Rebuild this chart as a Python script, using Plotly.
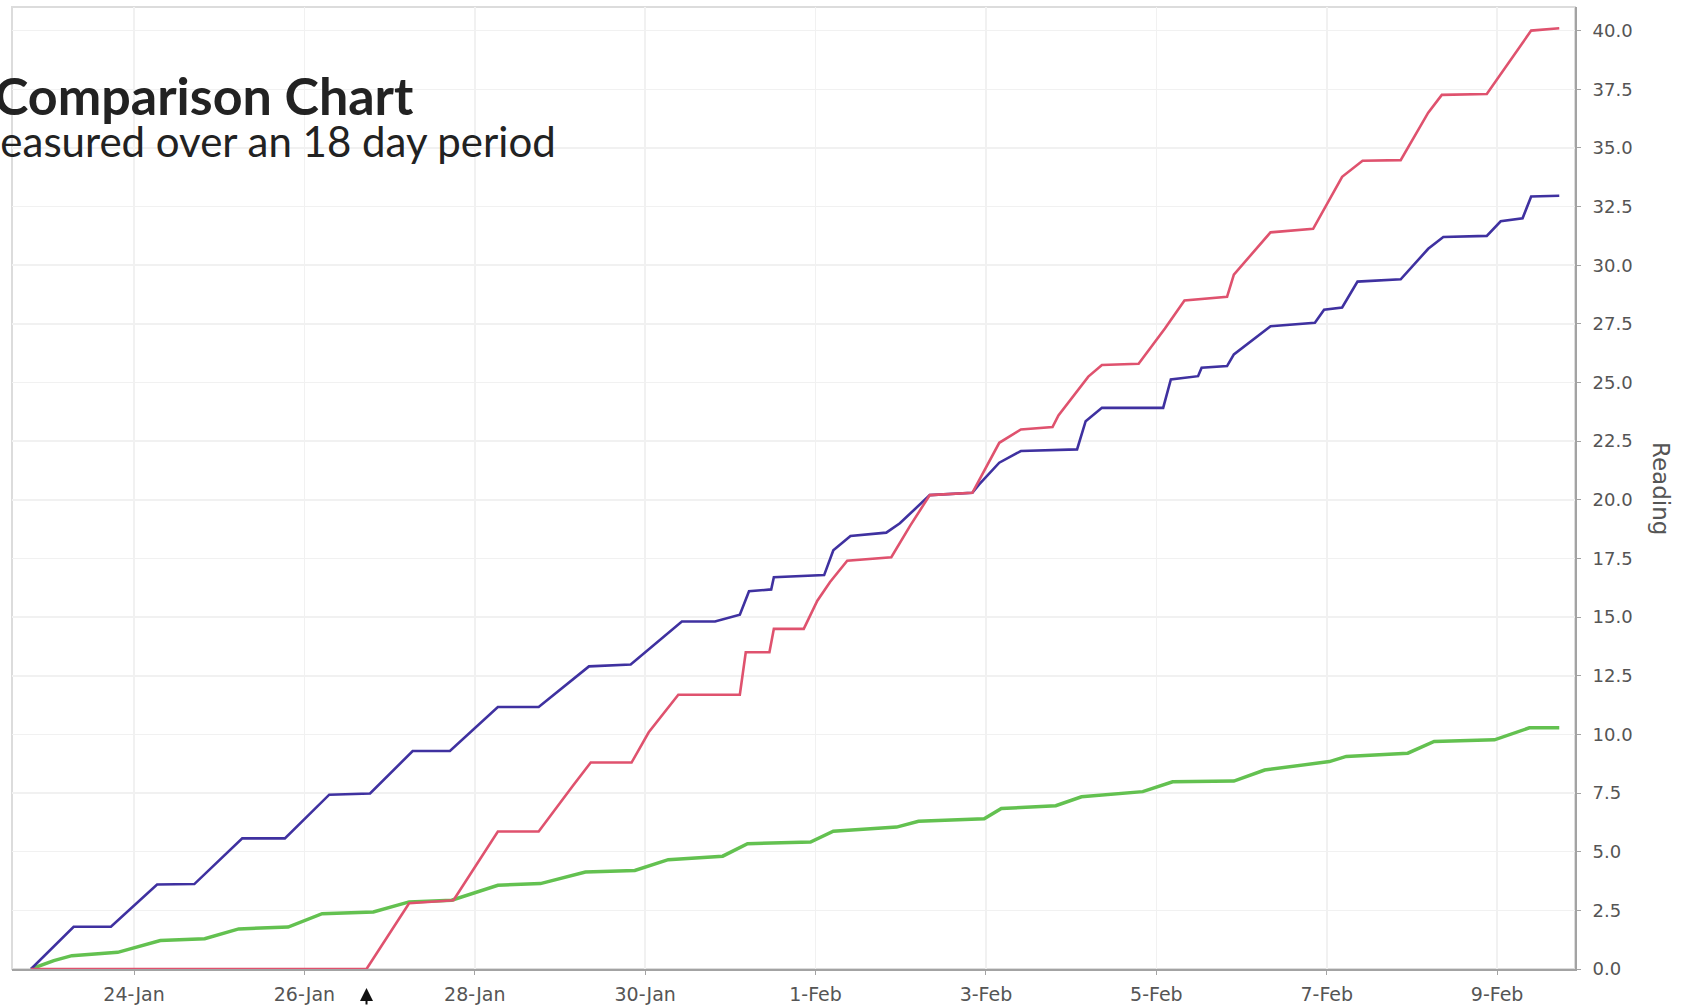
import plotly.graph_objects as go

# ---------------- data ----------------
blue_times = [
    "2010-01-22 19:00", "2010-01-23 07:00", "2010-01-23 17:30", "2010-01-24 06:30", "2010-01-24 17:00",
    "2010-01-25 06:30", "2010-01-25 18:30", "2010-01-26 07:00", "2010-01-26 18:30", "2010-01-27 06:30",
    "2010-01-27 17:00", "2010-01-28 06:30", "2010-01-28 18:00", "2010-01-29 08:10", "2010-01-29 19:55",
    "2010-01-30 10:20", "2010-01-30 19:40", "2010-01-31 02:40", "2010-01-31 05:15", "2010-01-31 11:30",
    "2010-01-31 12:15", "2010-02-01 02:25", "2010-02-01 05:00", "2010-02-01 09:50", "2010-02-01 19:55",
    "2010-02-01 23:45", "2010-02-02 08:10", "2010-02-02 20:10", "2010-02-02 22:05", "2010-02-03 03:45",
    "2010-02-03 09:50", "2010-02-04 01:40", "2010-02-04 04:05", "2010-02-04 08:40", "2010-02-05 01:55",
    "2010-02-05 04:05", "2010-02-05 11:45", "2010-02-05 12:45", "2010-02-05 19:55", "2010-02-05 21:50",
    "2010-02-06 08:10", "2010-02-06 20:40", "2010-02-06 23:15", "2010-02-07 04:20", "2010-02-07 08:40",
    "2010-02-07 20:50", "2010-02-08 04:35", "2010-02-08 08:50", "2010-02-08 21:05", "2010-02-09 01:00",
    "2010-02-09 07:10", "2010-02-09 09:35", "2010-02-09 17:30",
]
blue_values = [
    0.0, 1.8, 1.8, 3.6, 3.62,
    5.57, 5.57, 7.43, 7.48, 9.29,
    9.29, 11.17, 11.17, 12.9, 12.98,
    14.81, 14.81, 15.1, 16.1, 16.18,
    16.7, 16.79, 17.85, 18.46, 18.6,
    19.0, 20.2, 20.3, 20.66, 21.58,
    22.08, 22.15, 23.35, 23.92, 23.92,
    25.13, 25.27, 25.63, 25.7, 26.2,
    27.4, 27.55, 28.1, 28.2, 29.3,
    29.4, 30.7, 31.2, 31.25, 31.87,
    32.0, 32.93, 32.96,
]

red_times = [
    "2010-01-22 19:00", "2010-01-26 17:30", "2010-01-27 05:30", "2010-01-27 18:00", "2010-01-28 06:30",
    "2010-01-28 18:00", "2010-01-29 03:35", "2010-01-29 08:40", "2010-01-29 20:10", "2010-01-30 01:00",
    "2010-01-30 09:20", "2010-01-31 02:40", "2010-01-31 04:20", "2010-01-31 11:00", "2010-01-31 12:15",
    "2010-01-31 20:40", "2010-02-01 00:30", "2010-02-01 04:05", "2010-02-01 08:55", "2010-02-01 21:20",
    "2010-02-02 02:40", "2010-02-02 08:10", "2010-02-02 20:10", "2010-02-03 03:45", "2010-02-03 09:50",
    "2010-02-03 18:45", "2010-02-03 20:25", "2010-02-04 04:50", "2010-02-04 08:40", "2010-02-04 19:00",
    "2010-02-05 02:25", "2010-02-05 07:55", "2010-02-05 19:55", "2010-02-05 21:50", "2010-02-06 08:10",
    "2010-02-06 20:10", "2010-02-07 04:20", "2010-02-07 10:05", "2010-02-07 20:50", "2010-02-08 04:35",
    "2010-02-08 08:25", "2010-02-08 21:05", "2010-02-09 09:35", "2010-02-09 17:30",
]
red_values = [
    0.0, 0.0, 2.8, 2.93, 5.86,
    5.86, 7.8, 8.8, 8.8, 10.09,
    11.69, 11.69, 13.5, 13.5, 14.5,
    14.5, 15.7, 16.5, 17.4, 17.55,
    18.9, 20.2, 20.3, 22.43, 23.0,
    23.1, 23.6, 25.25, 25.75, 25.8,
    27.3, 28.5, 28.65, 29.6, 31.4,
    31.55, 33.77, 34.45, 34.48, 36.5,
    37.26, 37.3, 40.0, 40.1,
]

green_times = [
    "2010-01-22 19:00", "2010-01-23 01:25", "2010-01-23 06:30", "2010-01-23 19:25", "2010-01-24 07:25",
    "2010-01-24 19:55", "2010-01-25 05:30", "2010-01-25 19:25", "2010-01-26 05:00", "2010-01-26 19:25",
    "2010-01-27 05:30", "2010-01-27 17:30", "2010-01-28 06:30", "2010-01-28 18:30", "2010-01-29 07:10",
    "2010-01-29 21:05", "2010-01-30 06:30", "2010-01-30 21:50", "2010-01-31 04:50", "2010-01-31 22:35",
    "2010-02-01 05:00", "2010-02-01 22:50", "2010-02-02 05:00", "2010-02-02 23:30", "2010-02-03 04:20",
    "2010-02-03 19:40", "2010-02-04 02:55", "2010-02-04 20:10", "2010-02-05 04:35", "2010-02-05 21:50",
    "2010-02-06 06:30", "2010-02-07 00:45", "2010-02-07 05:30", "2010-02-07 22:50", "2010-02-08 06:15",
    "2010-02-08 23:15", "2010-02-09 09:05", "2010-02-09 17:30",
]
green_values = [
    0.0, 0.36, 0.57, 0.71, 1.21,
    1.29, 1.71, 1.79, 2.36, 2.43,
    2.86, 2.93, 3.57, 3.64, 4.13,
    4.2, 4.66, 4.81, 5.34, 5.41,
    5.87, 6.05, 6.3, 6.4, 6.84,
    6.96, 7.34, 7.56, 7.98, 8.01,
    8.48, 8.84, 9.06, 9.2, 9.7,
    9.77, 10.28, 10.28,
]

title_text = "Comparison Chart"
subtitle_text = "Measured over an 18 day period"
y_axis_title = "Reading"
marker_time = "2010-01-26 17:30"   # where the red series starts rising

# ---------------- figure ----------------
W, H = 1685, 1006
ML, MR, MT, MB = 12, 110, 7, 37
plot_w = W - ML - MR
plot_h = H - MT - MB


def px_x(px):
    return (px - ML) / plot_w


def px_y(py):
    return (H - MB - py) / plot_h


fig = go.Figure()
fig.add_trace(go.Scatter(x=green_times, y=green_values, mode="lines",
                         line=dict(color="#63c150", width=3.5), name="green"))
fig.add_trace(go.Scatter(x=blue_times, y=blue_values, mode="lines",
                         line=dict(color="#3f31a0", width=2.6), name="blue"))
fig.add_trace(go.Scatter(x=red_times, y=red_values, mode="lines",
                         line=dict(color="#df526e", width=2.6), name="red"))

# light frame on top/left
fig.add_shape(type="rect", xref="paper", yref="paper", x0=0, y0=0, x1=1, y1=1,
              line=dict(color="#dcdcdc", width=2), layer="below")

fig.add_annotation(xref="paper", yref="paper", x=px_x(416), y=px_y(95),
                   xanchor="right", yanchor="middle", showarrow=False,
                   text="<b>" + title_text + "</b>",
                   font=dict(family="Lato", size=52, color="#222222"))
fig.add_annotation(xref="paper", yref="paper", x=px_x(558), y=px_y(141),
                   xanchor="right", yanchor="middle", showarrow=False,
                   text=subtitle_text,
                   font=dict(family="Lato", size=42, color="#222222"))
fig.add_annotation(xref="paper", yref="paper", x=px_x(1661), y=px_y(488),
                   xanchor="center", yanchor="middle", showarrow=False,
                   text=y_axis_title, textangle=90,
                   font=dict(family="DejaVu Sans", size=23, color="#555555"))
fig.add_annotation(xref="x", yref="paper", x=marker_time, y=px_y(988),
                   ax=0, ay=30, axref="pixel", ayref="pixel", text="",
                   showarrow=True, arrowhead=2, arrowsize=1.3, arrowwidth=2,
                   arrowcolor="#111111", standoff=0)

fig.update_layout(
    width=W, height=H,
    margin=dict(l=ML, r=MR, t=MT, b=MB, pad=0, autoexpand=False),
    paper_bgcolor="white", plot_bgcolor="white",
    showlegend=False,
    xaxis=dict(
        type="date",
        range=["2010-01-22 13:38", "2010-02-09 21:56"],
        tick0="2010-01-24", dtick=2 * 86400000,
        tickformat="%-d-%b",
        showgrid=True, gridcolor="#f1f1f1", gridwidth=1.5,
        showline=True, linecolor="#a3a3a3", linewidth=2,
        ticks="outside", ticklen=4, tickcolor="#a3a3a3",
        ticklabelstandoff=3,
        tickfont=dict(family="DejaVu Sans", size=19, color="#555555"),
        zeroline=False, fixedrange=True,
    ),
    yaxis=dict(
        side="right",
        range=[0, (H - MB - MT) / 23.46],
        tick0=0, dtick=2.5, tickformat=".1f",
        showgrid=True, gridcolor="#f1f1f1", gridwidth=1.5,
        showline=True, linecolor="#a3a3a3", linewidth=2,
        ticks="outside", ticklen=4, tickcolor="#a3a3a3",
        ticklabelstandoff=8,
        tickfont=dict(family="DejaVu Sans", size=18, color="#555555"),
        zeroline=False, fixedrange=True,
    ),
)

fig.write_html("out.html",
               config={"displayModeBar": False, "staticPlot": True},
               post_script="document.body.style.margin='0';document.body.style.overflow='hidden';")
